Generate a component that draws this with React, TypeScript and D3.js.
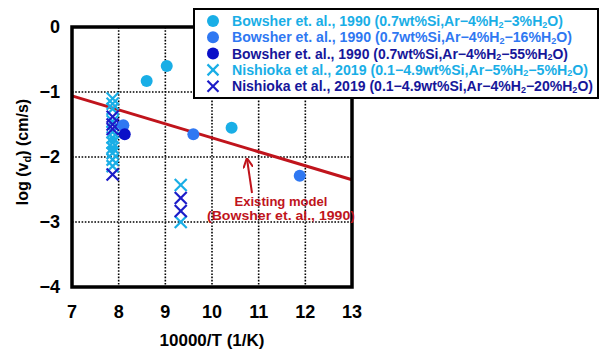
import React from 'react';
import * as d3 from 'd3';

// axes
const xTicks = [7, 8, 9, 10, 11, 12, 13];
const yTicks = [0, -1, -2, -3, -4];

// Bowsher et al. 1990 (circles)
const bowsher3 = [[8.6, -0.83], [9.03, -0.6], [10.42, -1.55], [7.87, -1.74], [7.87, -1.88]];
const bowsher16 = [[8.1, -1.51], [9.6, -1.65], [11.88, -2.29]];
const bowsher55 = [[8.13, -1.65]];

// Nishioka et al. 2019 (crosses)
const nishioka5 = [
  [7.87, -1.1], [7.87, -1.18], [7.87, -1.26], [7.87, -1.45], [7.87, -1.62], [7.87, -1.7],
  [7.87, -1.78], [7.87, -1.86], [7.87, -1.94], [7.87, -2.04], [7.87, -2.14],
  [9.33, -2.43], [9.33, -3.0],
];
const nishioka20 = [
  [7.87, -1.38], [7.87, -1.5], [7.87, -1.57], [7.87, -2.27],
  [9.33, -2.63], [9.33, -2.83],
];

// existing model line
const model = [[7, -1.06], [13, -2.35]];

const C_LIGHT = '#19aee6';
const C_MID = '#2f78f2';
const C_DARK = '#0a10c8';
const C_NAVY = '#16169a';
const C_X_DARK = '#1c1cc8';
const RED = '#c0141c';

const legendLabels = [
  ['Bowsher et. al., 1990 (0.7wt%Si,Ar−4%H', '2', '−3%H', '2', 'O)'],
  ['Bowsher et. al., 1990 (0.7wt%Si,Ar−4%H', '2', '−16%H', '2', 'O)'],
  ['Bowsher et. al., 1990 (0.7wt%Si,Ar−4%H', '2', '−55%H', '2', 'O)'],
  ['Nishioka et al., 2019 (0.1−4.9wt%Si,Ar−5%H', '2', '−5%H', '2', 'O)'],
  ['Nishioka et al., 2019 (0.1−4.9wt%Si,Ar−4%H', '2', '−20%H', '2', 'O)'],
];
const legendLens = [331, 340, 336, 356, 361];
const legendKinds = ['circle', 'circle', 'circle', 'x', 'x'];
const legendMark = [C_LIGHT, C_MID, C_DARK, C_LIGHT, C_X_DARK];
const legendText = [C_LIGHT, C_MID, C_NAVY, C_LIGHT, C_NAVY];

const FONT = '"Liberation Sans", Arial, sans-serif';

let ctx: CanvasRenderingContext2D | null = null;
const measure = (s: string, size: number) => {
  if (!ctx) ctx = document.createElement('canvas').getContext('2d');
  if (!ctx) return s.length * size * 0.55;
  ctx.font = `bold ${size}px "Liberation Sans", Arial, sans-serif`;
  return ctx.measureText(s).width;
};

// lays out alternating normal / subscript pieces as separate text elements
const Rich = ({ x, y, parts, size, subSize, fill, len = 0, anchor = 'start', subDy = 2 }) => {
  const widths = parts.map((p, i) => measure(p, i % 2 ? subSize : size));
  const total = d3.sum(widths);
  const k = len ? len / total : 1;
  const full = total * k;
  let cx = anchor === 'middle' ? x - full / 2 : x;
  return (
    <g>
      {parts.map((p, i) => {
        const w = widths[i] * k;
        const el = (
          <text key={i} x={cx} y={i % 2 ? y + subDy : y} fill={fill} fontFamily={FONT} fontWeight="bold"
            fontSize={i % 2 ? subSize : size} textLength={w} lengthAdjust="spacingAndGlyphs">{p}</text>
        );
        cx += w;
        return el;
      })}
    </g>
  );
};

const Cross = ({ x, y, color, s = 6 }) => (
  <g stroke={color} strokeWidth={2.2}>
    <line x1={x - s} y1={y - s} x2={x + s} y2={y + s} />
    <line x1={x - s} y1={y + s} x2={x + s} y2={y - s} />
  </g>
);

export default function App() {
  const W = 600, H = 351;
  const x = d3.scaleLinear().domain([7, 13]).range([72, 352]);
  const y = d3.scaleLinear().domain([0, -4]).range([27, 287]);
  const line = d3.line<number[]>().x(d => x(d[0])).y(d => y(d[1]));

  return (
    <svg width={W} height={H} style={{ position: 'absolute', left: 0, top: 0, background: '#fff' }}>
      <defs>
        <marker id="ah" viewBox="0 0 10 10" refX="9" refY="5" markerWidth="5" markerHeight="5" orient="auto-start-reverse">
          <path d="M0,0 L10,5 L0,10" fill="none" stroke={RED} strokeWidth={2} />
        </marker>
      </defs>

      {/* grid */}
      <g stroke="#000" strokeWidth={1.6} strokeDasharray="1.6,1.6">
        {xTicks.slice(1, -1).map(t => (
          <line key={'gx' + t} x1={x(t)} x2={x(t)} y1={y(0)} y2={y(-4)} />
        ))}
        {yTicks.slice(1, -1).map(t => (
          <line key={'gy' + t} x1={x(7)} x2={x(13)} y1={y(t)} y2={y(t)} />
        ))}
      </g>

      {/* model line */}
      <path d={line(model) || ''} fill="none" stroke={RED} strokeWidth={3} />

      {/* data */}
      {nishioka5.map((d, i) => <Cross key={'n5' + i} x={x(d[0])} y={y(d[1])} color={C_LIGHT} />)}
      {nishioka20.map((d, i) => <Cross key={'n20' + i} x={x(d[0])} y={y(d[1])} color={C_X_DARK} />)}
      {bowsher3.map((d, i) => <circle key={'b3' + i} cx={x(d[0])} cy={y(d[1])} r={i > 2 ? 4 : 6} fill={C_LIGHT} />)}
      {bowsher16.map((d, i) => <circle key={'b16' + i} cx={x(d[0])} cy={y(d[1])} r={6} fill={C_MID} />)}
      {bowsher55.map((d, i) => <circle key={'b55' + i} cx={x(d[0])} cy={y(d[1])} r={6} fill={C_DARK} />)}

      {/* frame */}
      <rect x={x(7)} y={y(0)} width={x(13) - x(7)} height={y(-4) - y(0)} fill="none" stroke="#000" strokeWidth={3.5} />

      {/* ticks */}
      {yTicks.map(t => (
        <text key={'ty' + t} x={60} y={y(t) + 6} textAnchor="end" fontFamily={FONT} fontWeight="bold" fontSize={18}>
          {t === 0 ? '0' : '−' + Math.abs(t)}
        </text>
      ))}
      {xTicks.map(t => (
        <text key={'tx' + t} x={x(t)} y={318} textAnchor="middle" fontFamily={FONT} fontWeight="bold" fontSize={18}>{t}</text>
      ))}

      {/* axis titles */}
      <text x={212} y={346} textAnchor="middle" fontFamily={FONT} fontWeight="bold" fontSize={17}>10000/T (1/K)</text>
      <g transform="translate(28,152) rotate(-90)">
        <Rich x={0} y={0} parts={['log (v', 'd', ') (cm/s)']} size={16} subSize={11} fill="#000" anchor="middle" subDy={3} />
      </g>

      {/* annotation */}
      <line x1={252} y1={193} x2={247} y2={159} stroke={RED} strokeWidth={2} markerEnd="url(#ah)" />
      <text x={281} y={206} textAnchor="middle" fill={RED} fontFamily={FONT} fontWeight="bold" fontSize={13}
        textLength={93} lengthAdjust="spacingAndGlyphs">Existing model</text>
      <text x={281} y={220} textAnchor="middle" fill={RED} fontFamily={FONT} fontWeight="bold" fontSize={13}
        textLength={148} lengthAdjust="spacingAndGlyphs">(Bowsher et. al., 1990)</text>

      {/* legend */}
      <rect x={194} y={9} width={404} height={89} fill="#fff" stroke="#000" strokeWidth={2} />
      {legendLabels.map((parts, i) => {
        const cy = 21 + i * 16.3;
        return (
          <g key={'lg' + i}>
            {legendKinds[i] === 'circle'
              ? <circle cx={213} cy={cy} r={6} fill={legendMark[i]} />
              : <Cross x={213} y={cy} color={legendMark[i]} s={5.5} />}
            <Rich x={232} y={cy + 5} parts={parts} size={14} subSize={9} fill={legendText[i]} len={legendLens[i]} subDy={1.5} />
          </g>
        );
      })}
    </svg>
  );
}
